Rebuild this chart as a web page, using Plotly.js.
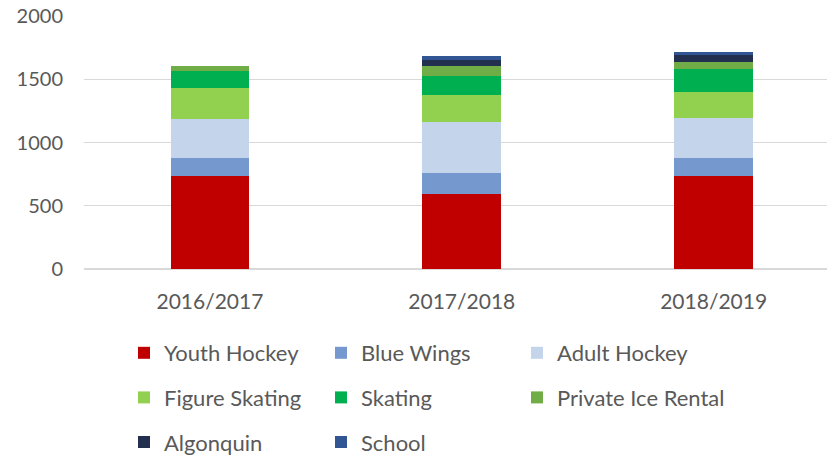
<!DOCTYPE html>
<html>
<head>
<meta charset="utf-8">
<script src="https://cdn.plot.ly/plotly-3.0.1.min.js"></script>
<style>html,body{margin:0;padding:0;background:#fff;}#chart{width:827px;height:460px;}</style>
</head>
<body>
<div id="chart"></div>
<script>
var seasons = ["2016/2017", "2017/2018", "2018/2019"];
var youthHockey = [734, 595, 732];
var blueWings = [142, 163, 144];
var adultHockey = [311, 403, 316];
var figureSkating = [247, 213, 211];
var skating = [132, 153, 179];
var privateIceRental = [40, 76, 55];
var algonquin = [0, 50, 53];
var school = [0, 29, 26];
var yTicks = [0, 500, 1000, 1500, 2000];

var seriesNames = ["Youth Hockey", "Blue Wings", "Adult Hockey", "Figure Skating", "Skating", "Private Ice Rental", "Algonquin", "School"];
var seriesValues = [youthHockey, blueWings, adultHockey, figureSkating, skating, privateIceRental, algonquin, school];
var seriesColors = ["#C00000", "#7599CF", "#C4D4EB", "#92D050", "#00B050", "#70AD47", "#222F4F", "#325693"];
// legend columns (legend = col 1, legend2 = col 2, legend3 = col 3)
var legendIds = ["legend", "legend2", "legend3", "legend", "legend2", "legend3", "legend", "legend2"];

var FONT = "Lato, 'Open Sans', sans-serif";
var TXT = "#595959";

var traces = seriesNames.map(function (n, i) {
  return {
    type: "bar",
    name: n,
    x: seasons,
    y: seriesValues[i],
    marker: {color: seriesColors[i], line: {width: 0}},
    legend: legendIds[i],
    legendgroup: "g" + i,
    hoverinfo: "x+y+name"
  };
});

function mkLegend(xpx, yTopPx) {
  return {
    orientation: "v",
    xref: "container", yref: "container",
    x: xpx / 827, xanchor: "left",
    y: 1 - yTopPx / 460, yanchor: "top",
    traceorder: "grouped",
    tracegroupgap: 13,
    font: {family: FONT, size: 22, color: TXT},
    bgcolor: "rgba(0,0,0,0)",
    borderwidth: 0
  };
}

var layout = {
  width: 827, height: 460,
  margin: {l: 84, r: 0, t: 16, b: 191, pad: 0, autoexpand: false},
  paper_bgcolor: "#fff", plot_bgcolor: "#fff",
  barmode: "stack",
  bargap: 0.687,
  font: {family: FONT, size: 20, color: TXT},
  xaxis: {
    type: "category",
    range: [-0.5, 2.45],
    showgrid: false, zeroline: false, showline: false,
    ticks: "", ticklabelstandoff: 18, tickangle: 0, automargin: false,
    tickfont: {family: FONT, size: 21, color: TXT}
  },
  yaxis: {
    range: [0, 2000],
    tickvals: yTicks,
    showgrid: true, gridcolor: "#D9D9D9", gridwidth: 1.3,
    zeroline: true, zerolinecolor: "#D9D9D9", zerolinewidth: 1.3,
    showline: false, ticks: "", ticklabelstandoff: 20, automargin: false,
    tickfont: {family: FONT, size: 20, color: TXT}
  },
  legend: mkLegend(124, 332),
  legend2: mkLegend(321, 332),
  legend3: mkLegend(517, 332),
  showlegend: true
};

Plotly.newPlot("chart", traces, layout, {displayModeBar: false, staticPlot: true});
</script>
</body>
</html>
